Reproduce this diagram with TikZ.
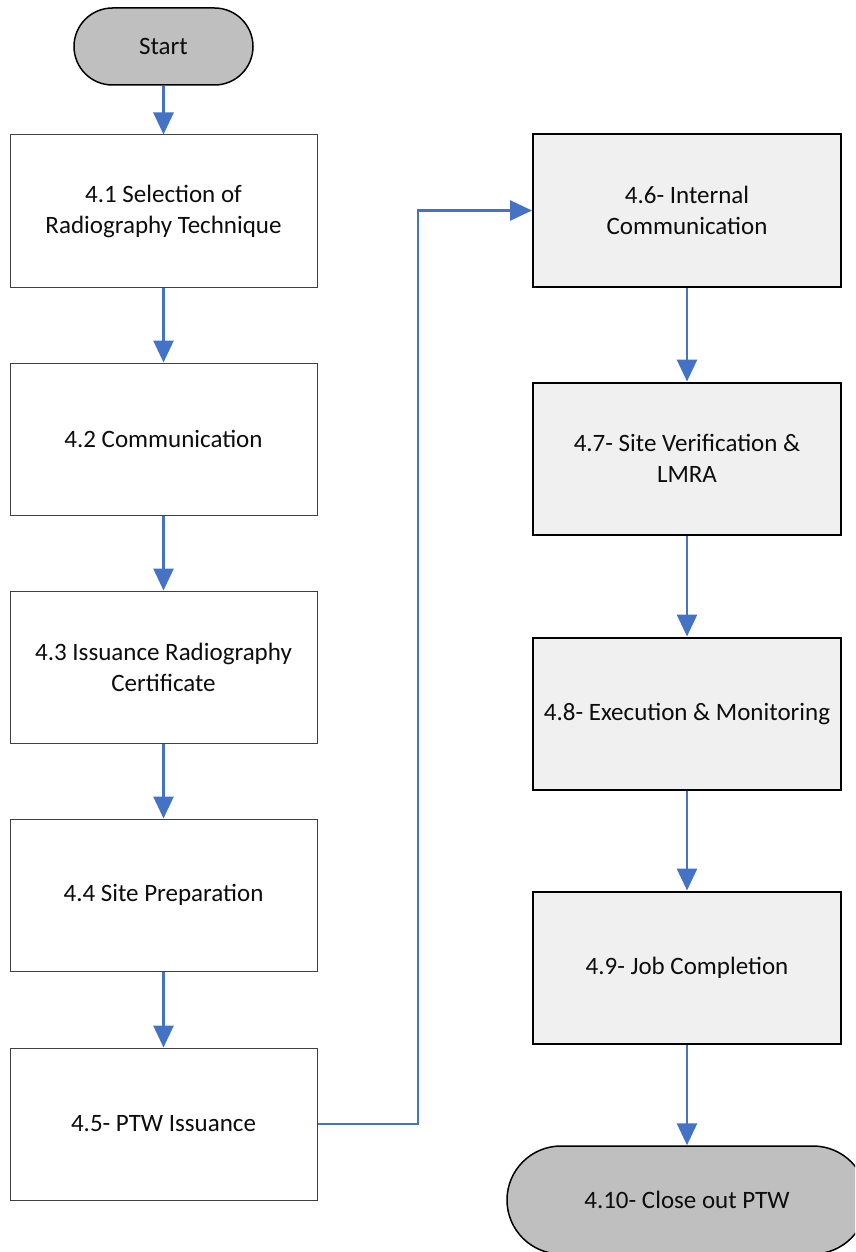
\documentclass[tikz,border=0pt]{standalone}
\usepackage{fontspec}
\setmainfont{Carlito}
\usetikzlibrary{arrows.meta}
\definecolor{flowblue}{HTML}{4472C4}
\definecolor{boxgray}{HTML}{F0F0F0}
\definecolor{termgray}{HTML}{BFBFBF}
\definecolor{ink}{HTML}{0D0D0D}
\begin{document}
\begin{tikzpicture}[x=1pt,y=-1pt,
  txt/.style={font=\fontsize{25}{31}\selectfont, align=center, text=ink},
  lbox/.style={txt, draw=black!75, line width=1pt, fill=white, minimum width=307pt, minimum height=152pt, inner sep=0pt},
  rbox/.style={txt, draw=black, line width=2pt, fill=boxgray, minimum width=308pt, minimum height=152pt, inner sep=0pt},
  term/.style={txt, draw=black, line width=1.5pt, fill=termgray, inner sep=0pt},
  flow/.style={draw=flowblue, line width=2.8pt, -{Triangle[width=20pt,length=22pt]}}
]
\useasboundingbox (0,0) rectangle (855,1252);
\begin{scope}
\clip (0,0) rectangle (855,1252);
% terminals
\node[term, minimum width=179pt, minimum height=77pt, rounded corners=38.5pt] (start) at (163.5,46.5) {Start};
\node[term, minimum width=360pt, minimum height=108pt, rounded corners=54pt] (close) at (687,1200) {4.10- Close out PTW};
% left column
\node[lbox] (b41) at (163.5,211) {4.1 Selection of\\Radiography Technique};
\node[lbox] (b42) at (163.5,439) {4.2 Communication};
\node[lbox] (b43) at (163.5,667) {4.3 Issuance Radiography\\Certificate};
\node[lbox] (b44) at (163.5,895) {4.4 Site Preparation};
\node[lbox] (b45) at (163.5,1124) {4.5- PTW Issuance};
% right column
\node[rbox] (b46) at (687,210.5) {4.6- Internal\\Communication};
\node[rbox] (b47) at (687,458.5) {4.7- Site Verification \&\\LMRA};
\node[rbox] (b48) at (687,713.5) {4.8- Execution \& Monitoring};
\node[rbox] (b49) at (687,967.5) {4.9- Job Completion};
% connectors
\draw[flow] (start.south) -- (b41.north);
\draw[flow] (b41.south) -- (b42.north);
\draw[flow] (b42.south) -- (b43.north);
\draw[flow] (b43.south) -- (b44.north);
\draw[flow] (b44.south) -- (b45.north);
\coordinate (elbow) at (418,1124);
\draw[flow] (b45.east) -- (elbow) |- (b46.west);
\draw[flow] (b46.south) -- (b47.north);
\draw[flow] (b47.south) -- (b48.north);
\draw[flow] (b48.south) -- (b49.north);
\draw[flow] (b49.south) -- (close.north);
\end{scope}
\end{tikzpicture}
\end{document}
